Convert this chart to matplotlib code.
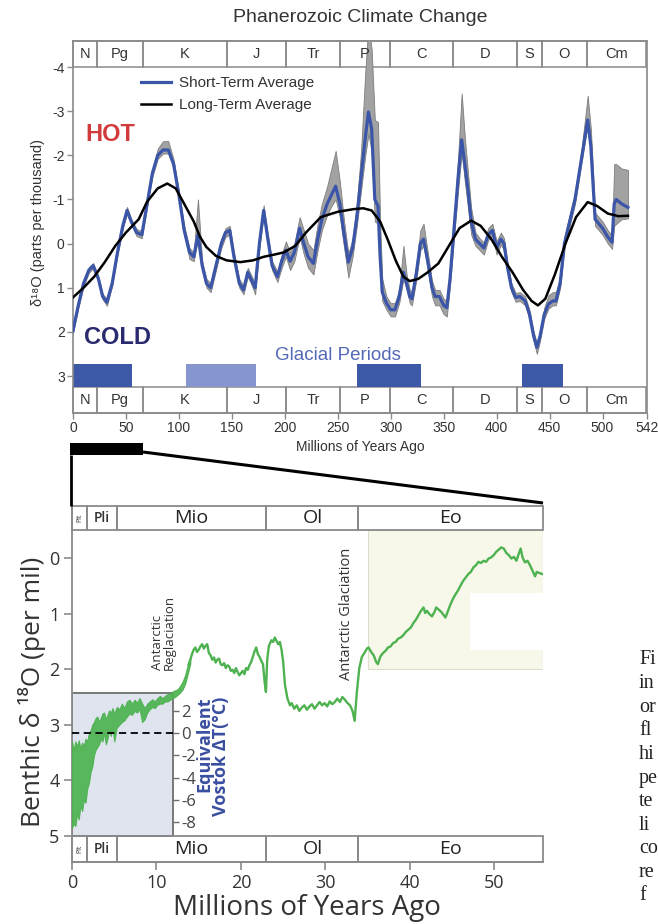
import matplotlib.pyplot as plt
from matplotlib.patches import Rectangle
from matplotlib.lines import Line2D

plt.rcParams['axes.unicode_minus'] = False
plt.rcParams['font.family'] = ['Liberation Sans', 'DejaVu Sans']

# ---------------- top panel: Phanerozoic record ----------------
periods = ['N', 'Pg', 'K', 'J', 'Tr', 'P', 'C', 'D', 'S', 'O', 'Cm']
period_edges = [0, 23, 66, 145, 201, 252, 299, 359, 419, 443, 485, 541]

glacial_start = [0, 107, 268, 424]
glacial_end = [56, 173, 329, 463]
glacial_color = ['#3d58a6', '#8795cf', '#3d58a6', '#3d58a6']

# short-term average (Ma, d18O) with grey band extent (toward warm / toward cold)
st_age = [0, 5, 10, 15, 19, 24, 28, 32, 37, 42, 47, 51, 55, 60, 65, 70, 75, 80, 85, 90,
          95, 100, 105, 110, 114, 118, 122, 126, 130, 135, 140, 144, 148, 152, 157, 161,
          165, 168, 172, 176, 180, 184, 188, 193, 197, 201, 205, 209, 214, 218, 222, 227,
          231, 235, 240, 244, 248, 252, 256, 260, 264, 268, 272, 276, 279, 282, 285, 288,
          290, 292, 296, 300, 304, 308, 312, 315, 318, 320, 324, 328, 331, 335, 339, 342,
          346, 350, 353, 356, 360, 364, 367, 370, 373, 376, 380, 384, 388, 392, 396, 400,
          404, 407, 410, 414, 418, 422, 427, 431, 435, 438, 441, 445, 449, 453, 456, 460,
          464, 469, 474, 480, 486, 489, 493, 500, 505, 509, 511, 513, 518, 524]
st_mean = [1.97, 1.40, 0.90, 0.60, 0.50, 0.80, 1.20, 1.33, 0.90, 0.20, -0.40, -0.75, -0.50,
           -0.25, -0.20, -0.90, -1.60, -2.00, -2.12, -2.12, -1.80, -1.10, -0.30, 0.20, 0.30,
           -0.20, 0.50, 0.90, 1.00, 0.50, 0.00, -0.25, -0.30, 0.30, 0.90, 1.05, 0.65, 0.80,
           1.00, 0.00, -0.75, -0.10, 0.50, 0.75, 0.40, 0.15, 0.40, 0.20, -0.35, 0.00, 0.30,
           0.45, -0.10, -0.55, -0.90, -1.10, -1.30, -0.90, -0.20, 0.42, 0.10, -0.60, -1.50,
           -2.40, -2.98, -2.60, -1.00, -0.85, 0.30, 1.10, 1.35, 1.50, 1.50, 1.20, 0.65, 0.90,
           1.20, 1.25, 0.70, 0.00, -0.10, 0.40, 1.00, 1.20, 1.20, 1.40, 1.45, 0.80, -0.40,
           -1.60, -2.35, -1.80, -1.20, -0.50, -0.10, 0.00, 0.10, -0.20, -0.30, 0.10, -0.10,
           0.00, 0.50, 1.00, 1.22, 1.20, 1.30, 1.60, 2.10, 2.35, 2.10, 1.60, 1.37, 1.30, 1.30,
           0.90, 0.00, -0.50, -1.00, -1.90, -2.80, -2.20, -0.55, -0.35, -0.15, -0.03, -0.90,
           -1.00, -0.90, -0.82]
st_up = [.06, .06, .06, .06, .06, .06, .06, .08, .06, .06, .06, .08, .06, .08, .08, .06, .08,
         .15, .20, .20, .10, .08, .10, .10, .10, .80, .10, .10, .10, .10, .10, .10, .10, .10,
         .10, .10, .10, .10, .10, .10, .12, .10, .10, .12, .15, .20, .20, .20, .25, .30, .30,
         .30, .35, .35, .40, .60, .80, .50, .30, .20, .20, .30, .60, 1.5, 2.0, 1.8, 1.8, 1.9,
         .80, .30, .15, .15, .15, .15, .60, .20, .15, .15, .20, .30, .35, .20, .15, .15, .15,
         .15, .15, .15, .20, .50, 1.05, .60, .40, .30, .15, .12, .12, .15, .15, .15, .15, .12,
         .12, .10, .10, .10, .10, .10, .10, .10, .10, .15, .20, .20, .20, .15, .15, .15, .15,
         .20, .55, .40, .15, .15, .15, .15, .90, .80, .80, .85]
st_dn = [.06, .06, .06, .06, .06, .06, .06, .08, .06, .06, .06, .08, .06, .08, .08, .06, .08,
         .08, .08, .08, .08, .08, .10, .15, .10, .10, .10, .10, .10, .10, .10, .10, .10, .10,
         .10, .10, .10, .10, .15, .10, .10, .10, .10, .12, .15, .15, .20, .20, .20, .25, .25,
         .25, .25, .25, .25, .25, .30, .30, .30, .35, .20, .20, .30, .40, .50, .50, .50, .40,
         .30, .20, .15, .15, .15, .15, .15, .15, .15, .15, .15, .15, .15, .20, .20, .20, .20,
         .20, .20, .15, .20, .30, .30, .40, .40, .30, .15, .15, .15, .12, .12, .15, .12, .15,
         .12, .10, .10, .10, .10, .10, .12, .15, .10, .10, .10, .10, .10, .10, .10, .10, .10,
         .10, .10, .15, .15, .15, .15, .15, .50, .55, .35, .25]

# long-term average
lt_age = [0, 10, 20, 30, 40, 50, 62, 70, 80, 89, 97, 105, 114, 120, 126, 135, 145, 158, 170,
          180, 190, 199, 210, 220, 234, 250, 265, 274, 282, 290, 297, 305, 312, 318, 326, 335,
          345, 355, 365, 376, 385, 395, 405, 415, 425, 433, 439, 446, 455, 465, 475, 486, 495,
          505, 515, 524]
lt_val = [1.22, 1.00, 0.75, 0.42, 0.05, -0.25, -0.55, -0.95, -1.25, -1.36, -1.25, -0.90, -0.50,
          -0.15, 0.08, 0.28, 0.38, 0.42, 0.38, 0.30, 0.25, 0.20, 0.05, -0.25, -0.60, -0.72,
          -0.78, -0.80, -0.75, -0.50, -0.10, 0.40, 0.75, 0.85, 0.80, 0.65, 0.45, 0.05, -0.35,
          -0.52, -0.40, -0.10, 0.30, 0.65, 1.05, 1.30, 1.40, 1.25, 0.70, 0.00, -0.60, -0.94,
          -0.85, -0.68, -0.62, -0.63]

top_xticks = [0, 50, 100, 150, 200, 250, 300, 350, 400, 450, 500, 542]
top_yticks = [-4, -3, -2, -1, 0, 1, 2, 3]

# ---------------- bottom panel: Cenozoic benthic record ----------------
epochs = ['Plt', 'Pli', 'Mio', 'Ol', 'Eo']
epoch_edges = [0, 1.8, 5.3, 23.0, 33.9, 55.7]

# young, strongly oscillating part: envelope of the record
env_age = [0.0, 0.2, 0.4, 0.6, 0.8, 1.0, 1.2, 1.4, 1.6, 1.8, 2.0, 2.2, 2.4, 2.6, 2.8, 3.0,
           3.2, 3.4, 3.6, 3.8, 4.0, 4.2, 4.4, 4.6, 4.8, 5.0, 5.3, 5.6, 5.9, 6.2, 6.5, 6.8,
           7.1, 7.4, 7.7, 8.0, 8.3, 8.6, 8.9, 9.2, 9.5, 9.8, 10.1, 10.4, 10.7, 11.0, 11.3,
           11.6, 11.9, 12.2, 12.5, 12.8, 13.1, 13.4, 13.7, 14.0]
env_top = [3.30, 3.45, 3.30, 3.38, 3.28, 3.42, 3.32, 3.38, 3.25, 3.30, 3.15, 3.10, 3.00,
           2.95, 2.88, 2.85, 2.95, 2.88, 2.80, 2.78, 2.90, 2.82, 2.74, 2.78, 2.70, 2.80,
           2.68, 2.72, 2.62, 2.70, 2.58, 2.55, 2.62, 2.55, 2.60, 2.52, 2.62, 2.70, 2.62,
           2.58, 2.54, 2.58, 2.52, 2.48, 2.52, 2.48, 2.45, 2.44, 2.40, 2.38, 2.36, 2.30,
           2.22, 2.10, 1.92, 1.78]
env_bot = [4.85, 4.78, 4.82, 4.60, 4.70, 4.45, 4.55, 4.35, 4.40, 4.15, 4.05, 3.85, 3.75,
           3.55, 3.45, 3.40, 3.35, 3.25, 3.30, 3.15, 3.35, 3.25, 3.10, 3.20, 3.05, 3.30,
           3.05, 3.00, 2.95, 2.92, 2.85, 2.80, 2.82, 2.75, 2.78, 2.72, 2.95, 2.90, 2.78,
           2.72, 2.68, 2.70, 2.64, 2.62, 2.62, 2.58, 2.58, 2.55, 2.52, 2.50, 2.46, 2.42,
           2.36, 2.26, 2.08, 1.90]

# older part: single trace
b_age = [13.8, 14.0, 14.2, 14.4, 14.6, 14.8, 15.0, 15.2, 15.4, 15.6, 15.8, 16.0, 16.2, 16.4,
         16.6, 16.8, 17.0, 17.2, 17.4, 17.6, 17.8, 18.0, 18.2, 18.4, 18.6, 18.8, 19.0, 19.2,
         19.4, 19.6, 19.8, 20.0, 20.2, 20.4, 20.6, 20.8, 21.0, 21.2, 21.4, 21.6, 21.8, 22.0,
         22.2, 22.4, 22.6, 22.8, 22.95, 23.1, 23.3, 23.6, 23.8, 24.0, 24.2, 24.4, 24.6, 24.8,
         25.0, 25.2, 25.5, 25.8, 26.0, 26.3, 26.6, 26.9, 27.2, 27.5, 27.8, 28.1, 28.4, 28.7,
         29.0, 29.3, 29.6, 29.9, 30.2, 30.5, 30.8, 31.1, 31.4, 31.7, 32.0, 32.3, 32.6, 32.9,
         33.2, 33.45, 33.7, 34.0, 34.3, 34.6, 34.9, 35.1, 35.4, 35.7, 36.0, 36.2, 36.5, 36.8,
         37.1, 37.4, 37.7, 38.0, 38.3, 38.6, 38.9, 39.2, 39.5, 39.8, 40.1, 40.4, 40.7, 41.0,
         41.3, 41.6, 41.8, 42.0, 42.3, 42.6, 42.9, 43.1, 43.4, 43.7, 44.0, 44.2, 44.5, 44.8,
         45.1, 45.4, 45.7, 46.0, 46.3, 46.6, 46.9, 47.2, 47.5, 47.8, 48.1, 48.4, 48.7, 49.0,
         49.3, 49.6, 49.9, 50.2, 50.5, 50.8, 51.1, 51.4, 51.7, 52.0, 52.3, 52.6, 52.9, 53.1,
         53.3, 53.6, 53.9, 54.2, 54.5, 54.8, 55.0, 55.3, 55.7]
b_val = [1.92, 1.83, 1.73, 1.65, 1.61, 1.69, 1.65, 1.59, 1.55, 1.63, 1.58, 1.55, 1.71, 1.75,
         1.83, 1.79, 1.88, 1.83, 1.81, 1.91, 1.93, 1.89, 1.98, 1.93, 1.95, 2.03, 2.01, 2.07,
         1.98, 2.05, 2.11, 2.07, 2.03, 2.09, 1.98, 2.01, 1.93, 1.87, 1.78, 1.68, 1.61, 1.73,
         1.78, 1.85, 1.91, 2.23, 2.41, 1.83, 1.58, 1.48, 1.51, 1.43, 1.49, 1.55, 1.51, 1.65,
         1.88, 2.28, 2.53, 2.65, 2.61, 2.71, 2.65, 2.75, 2.69, 2.65, 2.73, 2.67, 2.63, 2.71,
         2.65, 2.59, 2.65, 2.61, 2.67, 2.58, 2.63, 2.59, 2.53, 2.59, 2.50, 2.55, 2.61, 2.65,
         2.75, 2.93, 2.43, 1.98, 1.78, 1.71, 1.63, 1.61, 1.69, 1.75, 1.87, 1.91, 1.77, 1.71,
         1.67, 1.61, 1.59, 1.53, 1.51, 1.45, 1.43, 1.39, 1.33, 1.29, 1.25, 1.17, 1.11, 1.03,
         0.95, 0.89, 0.99, 0.95, 1.01, 1.05, 0.97, 0.89, 0.93, 0.97, 1.03, 1.07, 0.95, 0.83,
         0.73, 0.65, 0.58, 0.49, 0.41, 0.35, 0.29, 0.25, 0.17, 0.13, 0.07, 0.09, 0.05, 0.07,
         0.01, -0.01, -0.05, -0.11, -0.15, -0.19, -0.17, -0.09, -0.05, 0.01, -0.02, 0.05,
         -0.09, -0.17, -0.02, 0.08, 0.05, 0.13, 0.23, 0.33, 0.25, 0.27, 0.29]

bot_xticks = [0, 10, 20, 30, 40, 50]
bot_yticks = [0, 1, 2, 3, 4, 5]
vostok_ticks = [2, 0, -2, -4, -6, -8]
vostok_zero = 3.15      # d18O that corresponds to dT = 0
vostok_slope = 0.2      # per mil per degree C
vostok_box = (11.9, 2.42)   # right edge (Ma), top (per mil) of the shaded Pleistocene box

caption_bits = ['Fi', 'in', 'or', 'fl', 'hi', 'pe', 'te', 'li', 'co', 're', 'f']

# ---------------- figure ----------------
W, H = 658, 924
fig = plt.figure(figsize=(W / 100, H / 100), dpi=100)


def box(x0, y0, x1, y1):
    return [x0 / W, 1 - y1 / H, (x1 - x0) / W, (y1 - y0) / H]


def pt(x, y):
    return (x / W, 1 - y / H)


grey = '#8a8a8a'
green = '#4db24f'

# ---- top chart ----
ax = fig.add_axes(box(73, 41, 647, 413))
ytop, ybot = -4.589, 3.838
ax.set_xlim(0, 542)
ax.set_ylim(ybot, ytop)
for s in ax.spines.values():
    s.set_color(grey)
    s.set_linewidth(1.2)

for i, name in enumerate(periods):
    e0, e1 = period_edges[i], period_edges[i + 1]
    for y0, y1 in [(ytop, -4.0), (3.25, ybot)]:
        ax.add_patch(Rectangle((e0, y0), e1 - e0, y1 - y0, fill=False, ec=grey, lw=1.1,
                               clip_on=False, zorder=1))
        ax.text((e0 + e1) / 2, (y0 + y1) / 2, name, ha='center', va='center',
                fontsize=10.5, color='#333333', zorder=6)

ax.bar(glacial_start, 0.52, width=[e - s for s, e in zip(glacial_start, glacial_end)],
       bottom=2.73, align='edge', color=glacial_color, zorder=2)

lo = [m - u for m, u in zip(st_mean, st_up)]
hi = [m + d for m, d in zip(st_mean, st_dn)]
ax.fill_between(st_age, lo, hi, color='#a2a2a2', ec='#7d7d7d', lw=0.6, zorder=3)
ax.plot(st_age, st_mean, color='#3b55a8', lw=2.3, zorder=4, label='Short-Term Average')
ax.plot(lt_age, lt_val, color='black', lw=1.8, zorder=5, label='Long-Term Average')

leg = ax.legend(loc='upper left', bbox_to_anchor=(0.118, 0.905), frameon=False,
                fontsize=11, handlelength=2.0, handletextpad=0.5, borderpad=0,
                borderaxespad=0, labelspacing=0.5)
for t in leg.get_texts():
    t.set_color('#333333')

ax.text(11.4, -2.48, 'HOT', color='#d23b3b', fontsize=17, fontweight='bold', va='center')
ax.text(10.4, 2.12, 'COLD', color='#2a2a70', fontsize=17, fontweight='bold', va='center')
ax.text(250, 2.54, 'Glacial Periods', color='#5468b8', fontsize=13.5, ha='center',
        va='center')

ax.set_xticks(top_xticks)
ax.set_yticks(top_yticks)
ax.set_yticklabels([str(v) for v in top_yticks])
ax.tick_params(axis='both', colors=grey, labelcolor='#333333', labelsize=10, length=4,
               width=1, pad=2)

fig.text(*pt(360, 18), 'Phanerozoic Climate Change', ha='center', va='center',
         fontsize=14, color='#333333')
fig.text(*pt(360, 447), 'Millions of Years Ago', ha='center', va='center', fontsize=10,
         color='#333333')
fig.text(*pt(38, 222), 'δ¹⁸O (parts per thousand)', rotation=90, ha='center',
         va='center', fontsize=10.5, color='#333333')

# ---- zoom connector ----
deco = dict(color='black', solid_capstyle='butt', transform=fig.transFigure)
fig.patches.append(Rectangle(pt(70, 455), 73 / W, 12 / H, fc='black', ec='none',
                             transform=fig.transFigure))
fig.lines.append(Line2D(*zip(pt(71, 455), pt(71, 506)), lw=2, **deco))
fig.lines.append(Line2D(*zip(pt(143, 452), pt(543, 503)), lw=2.2, **deco))

# ---- bottom chart ----
bf = ['Open Sans', 'DejaVu Sans']
bx = fig.add_axes(box(72, 506, 543, 862))
btop, bbot = -0.935, 5.468
bx.set_xlim(0, 55.74)
bx.set_ylim(bbot, btop)
bx.spines['top'].set_visible(False)
bx.spines['right'].set_visible(False)
for s in ('left', 'bottom'):
    bx.spines[s].set_color(grey)
    bx.spines[s].set_linewidth(1.3)

bx.add_patch(Rectangle((0, vostok_box[1]), vostok_box[0], 5.0 - vostok_box[1],
                       fc='#dfe4ef', ec='#6e6e6e', lw=1.3, zorder=1))
bx.add_patch(Rectangle((35.0, -0.5), 55.74 - 35.0, 2.5, fc='#f8f8ea', ec='#deded0',
                       lw=0.8, zorder=1))
bx.add_patch(Rectangle((47.1, 0.63), 8.6, 1.02, fc='white', ec='none', zorder=1))

bx.fill_between(env_age, env_top, env_bot, color=green, ec=green, lw=0.8, alpha=0.92,
                zorder=4)
bx.plot(b_age, b_val, color=green, lw=1.7, zorder=4)
bx.hlines(vostok_zero, 0, vostok_box[0], colors='black', linestyles=(0, (4, 2.5)), lw=1.3,
          zorder=5)

for i, name in enumerate(epochs):
    e0, e1 = epoch_edges[i], epoch_edges[i + 1]
    for y0, y1 in [(btop, -0.5), (5.0, bbot)]:
        bx.add_patch(Rectangle((e0, y0), e1 - e0, y1 - y0, fill=False, ec=grey, lw=1.3,
                               clip_on=False, zorder=5))
        if name == 'Plt':
            bx.text((e0 + e1) / 2, (y0 + y1) / 2, name, ha='center', va='center',
                    fontsize=5, rotation=90, color='#333333', family=bf)
        elif name == 'Pli':
            bx.text((e0 + e1) / 2, (y0 + y1) / 2, name, ha='center', va='center',
                    fontsize=10, fontweight='semibold', color='#333333', family=bf)
        else:
            bx.text((e0 + e1) / 2, (y0 + y1) / 2, name, ha='center', va='center',
                    fontsize=14, color='#222222', family=bf)

bx.set_xticks(bot_xticks)
bx.set_yticks(bot_yticks)
bx.tick_params(axis='both', colors=grey, labelcolor='#333333', labelsize=13, length=6,
               width=1.2, pad=3)
for lab in bx.get_xticklabels() + bx.get_yticklabels():
    lab.set_family(bf)

sec = bx.secondary_yaxis(vostok_box[0] / 55.74,
                         functions=(lambda d: (vostok_zero - d) / vostok_slope,
                                    lambda t: vostok_zero - vostok_slope * t))
sec.set_alignment('right')
sec.spines['right'].set_visible(False)
sec.spines['left'].set_visible(False)
sec.set_yticks(vostok_ticks)
sec.set_yticklabels([str(v) for v in vostok_ticks])
sec.tick_params(colors='#6e6e6e', labelcolor='#444444', labelsize=12, length=4, width=1,
                pad=2)
for lab in sec.get_yticklabels():
    lab.set_family(bf)

bx.text(16.7, 2.5, 'Equivalent\nVostok ΔT(°C)', rotation=90, ha='center', va='top',
        multialignment='right', fontsize=13, fontweight='bold', color='#3a4ea0',
        linespacing=0.9, family=bf)
bx.text(10.8, 2.01, 'Antarctic\nReglaciation', rotation=90, ha='center', va='bottom',
        multialignment='left', fontsize=9.5, color='#333333', linespacing=0.85, family=bf)
bx.text(32.5, 2.19, 'Antarctic Glaciation', rotation=90, ha='center', va='bottom',
        fontsize=10.5, color='#333333', family=bf)

fig.text(*pt(307, 908), 'Millions of Years Ago', ha='center', va='center', fontsize=20,
         color='#333333', family=bf)
fig.text(*pt(32, 692), 'Benthic δ ¹⁸O (per mil)', rotation=90, ha='center', va='center',
         fontsize=19, color='#333333', family=bf)

# truncated caption text at the right edge
for k, word in enumerate(caption_bits):
    fig.text(*pt(639, 660 + 23.6 * k), word, ha='left', va='center', fontsize=14.5,
             family=['Liberation Serif', 'DejaVu Serif'], color='#222222')

fig.savefig('out.png', dpi=100)
